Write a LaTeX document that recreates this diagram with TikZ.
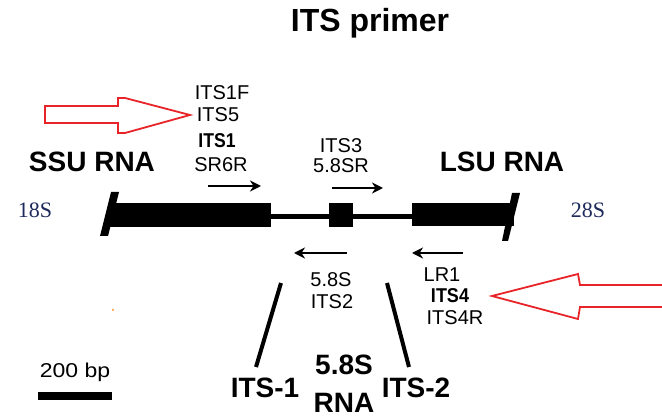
\documentclass[tikz,border=0pt]{standalone}
\usepackage{fontspec}
\setmainfont{Liberation Sans}
\newfontfamily\serifnum{Liberation Serif}
\usetikzlibrary{arrows.meta}
\definecolor{arrred}{RGB}{232,36,40}
\definecolor{navy}{RGB}{30,42,92}
\begin{document}
\begin{tikzpicture}[x=1pt,y=-1pt,
  lbl/.style={font=\fontsize{20}{24}\selectfont, inner sep=0pt, anchor=base},
  lblb/.style={font=\bfseries\fontsize{20}{24}\selectfont, inner sep=0pt, anchor=base},
  big/.style={font=\bfseries\fontsize{28}{32}\selectfont, inner sep=0pt, anchor=base},
  sz/.style={font=\serifnum\fontsize{22}{26}\selectfont, text=navy, inner sep=0pt, anchor=base},
  primer/.style={line width=1.8pt, -{Stealth[length=11pt,width=11pt,inset=3.5pt]}},
  hollow/.style={draw=arrred, line width=1.8pt, fill=white, line join=miter},
  gene/.style={fill=black, draw=none},
  tick/.style={line width=4pt}
]
\useasboundingbox (0,0) rectangle (662,419);

% title
\node[font=\bfseries\fontsize{32}{36}\selectfont, inner sep=0pt, anchor=base] (title) at (370,32) {ITS primer};

% gene bars
\fill[gene] (110,203) rectangle (271,227);
\fill[gene] (111,192) -- (119,192) -- (108,236) -- (100,236) -- cycle;
\fill[gene] (271,214) rectangle (412,219);
\fill[gene] (329,203) rectangle (353,227);
\fill[gene] (412,203) rectangle (514,226);
\fill[gene] (512,193) -- (520,193) -- (508,241) -- (502,241) -- cycle;

% big labels
\node[big] (ssu) at (92,172) {SSU RNA};
\node[big] (lsu) at (502,172) {LSU RNA};
\node[sz] (s18) at (35,218) {18S};
\node[sz] (s28) at (588,218) {28S};

% forward primers left
\node[lbl] (its1f) at (222,100) {ITS1F};
\node[lbl] (its5) at (218,122) {ITS5};
\node[lblb] (its1) at (217,148) {\scalebox{0.88}[1]{ITS1}};
\node[lbl] (sr6r) at (221,172) {SR6R};
\coordinate (a1s) at (208,186); \coordinate (a1e) at (261,186);
\draw[primer] (a1s) -- (a1e);

% forward primers middle
\node[lbl] (its3) at (341,153) {ITS3};
\node[lbl] (s58r) at (341,173) {5.8SR};
\coordinate (a2s) at (332,188); \coordinate (a2e) at (383,188);
\draw[primer] (a2s) -- (a2e);

% reverse primers middle
\coordinate (a3s) at (347,253); \coordinate (a3e) at (294,253);
\draw[primer] (a3s) -- (a3e);
\node[lbl] (s58) at (331,287) {5.8S};
\node[lbl] (its2) at (332,309) {ITS2};

% reverse primers right
\coordinate (a4s) at (463,253); \coordinate (a4e) at (412,253);
\draw[primer] (a4s) -- (a4e);
\node[lbl] (lr1) at (442,282) {LR1};
\node[lblb] (its4) at (450,303) {\scalebox{0.9}[1]{ITS4}};
\node[lbl] (its4r) at (455,325) {ITS4R};

% red hollow arrows
\draw[hollow] (45,106) -- (118,106) -- (118,98) -- (125,98) -- (190,115) -- (125,133) -- (118,133) -- (118,123) -- (45,123) -- cycle;
\draw[hollow] (664,285) -- (580,285) -- (578,274) -- (492,296) -- (578,319) -- (580,307) -- (664,307);

% ITS region pointers
\coordinate (l1t) at (281,283); \coordinate (l1b) at (256,367);
\coordinate (l2t) at (387,283); \coordinate (l2b) at (409,367);
\draw[tick] (l1t) -- (l1b);
\draw[tick] (l2t) -- (l2b);
\node[big] (its-1) at (265,398) {ITS-1};
\node[big] (r58) at (344,375) {5.8S};
\node[big] (rna) at (344,413) {RNA};
\node[big] (its-2) at (416,398) {ITS-2};

% scale bar
\node[lbl] (bp) at (75,378) {\scalebox{1.15}[1]{200 bp}};
\fill[black] (38,392) rectangle (112,400);
\fill[orange] (113,310) circle (1pt);
\end{tikzpicture}
\end{document}
